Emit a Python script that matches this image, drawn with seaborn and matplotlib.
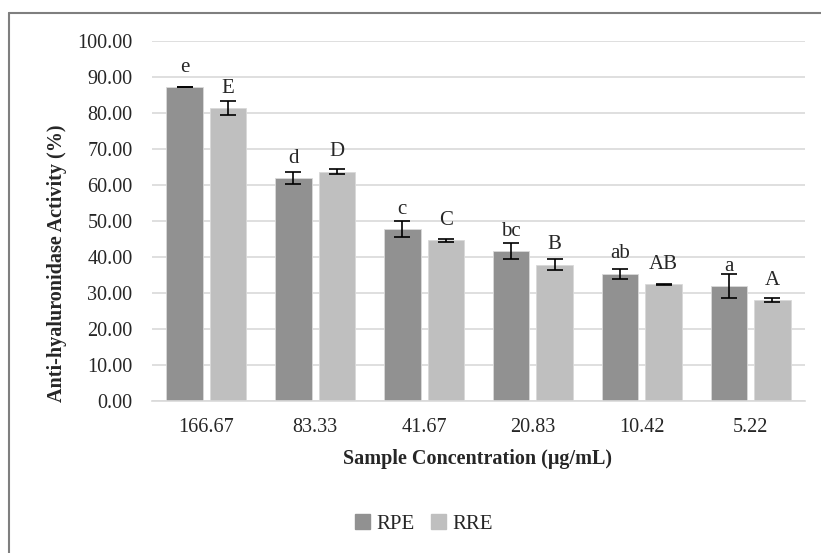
import pandas as pd
import seaborn as sns
import matplotlib.pyplot as plt
from matplotlib.lines import Line2D

# Chart values
concentrations = ['166.67', '83.33', '41.67', '20.83', '10.42', '5.22']
rpe_mean = [87.2, 61.9, 47.7, 41.6, 35.4, 32.0]
rpe_err = [0.1, 1.6, 2.2, 2.2, 1.4, 3.3]
rre_mean = [81.3, 63.7, 44.6, 37.9, 32.4, 28.1]
rre_err = [1.9, 0.7, 0.35, 1.5, 0.2, 0.5]
rpe_letters = ['e', 'd', 'c', 'bc', 'ab', 'a']
rre_letters = ['E', 'D', 'C', 'B', 'AB', 'A']

# Long table for seaborn
data = pd.DataFrame({
    'Concentration': concentrations * 2,
    'Activity': rpe_mean + rre_mean,
    'Err': rpe_err + rre_err,
    'Letter': rpe_letters + rre_letters,
    'Extract': ['RPE'] * 6 + ['RRE'] * 6,
})

sns.set_theme(style="white")
plt.rcParams['font.family'] = ['Liberation Serif', 'DejaVu Serif']

fig = plt.figure(figsize=(8.21, 5.53), dpi=100)
ax = fig.add_axes([152 / 821, 1 - 401 / 553, 653 / 821, 360 / 553])

palette = {'RPE': '#919191', 'RRE': '#bfbfbf'}
sns.barplot(data=data, x='Concentration', y='Activity', hue='Extract',
            order=concentrations, hue_order=['RPE', 'RRE'], palette=palette,
            width=0.8, gap=0.16, errorbar=None, saturation=1,
            edgecolor='#d9d9d9', linewidth=0.6, ax=ax, zorder=2)

# Error bars and letters on top of each bar
bars = [p for p in ax.patches if p.get_height() > 0]
for bar, err, letter in zip(bars, data['Err'], data['Letter']):
    cx = bar.get_x() + bar.get_width() / 2
    top = bar.get_height()
    ax.errorbar(cx, top, yerr=err, color='black', lw=1.2,
                capsize=6, capthick=1.2, zorder=3)
    ax.annotate(letter, (cx, top), xytext=(0, 11), textcoords='offset points',
                ha='center', va='baseline', fontsize=15)

# Axis styling
ax.set_xlim(-0.5, len(concentrations) - 0.5)
ax.set_ylim(0, 100)
ax.set_yticks(range(0, 101, 10))
ax.set_yticklabels([f'{v:.2f}' for v in range(0, 101, 10)])
ax.yaxis.grid(True, color='#d9d9d9', lw=1.2, zorder=0)
ax.set_axisbelow(True)
for side in ['top', 'right', 'left']:
    ax.spines[side].set_visible(False)
ax.spines['bottom'].set_color('#d9d9d9')
ax.spines['bottom'].set_linewidth(1.2)
ax.tick_params(axis='y', length=0, pad=14, labelsize=14.5)
ax.tick_params(axis='x', length=0, pad=12, labelsize=14.5)

ax.set_xlabel('Sample Concentration (μg/mL)', fontsize=14.5, fontweight='bold',
              va='center')
ax.xaxis.set_label_coords(0.498, -0.161)
ax.set_ylabel('Anti-hyaluronidase Activity (%)', fontsize=14.5,
              fontweight='bold', va='center')
ax.yaxis.set_label_coords(-0.1455, 0.383)

# Legend under the chart
ax.get_legend().remove()
handles = [plt.Rectangle((0, 0), 1, 1, color=palette[k]) for k in ['RPE', 'RRE']]
fig.legend(handles, ['RPE', 'RRE'], loc='center', bbox_to_anchor=(424 / 821, 1 - 524 / 553),
           ncol=2, frameon=False, fontsize=15, handlelength=0.7, handleheight=0.7,
           handletextpad=0.3, columnspacing=0.8)

# Gray frame around the chart area (only top and left visible)
fig.add_artist(Line2D([9 / 821, 9 / 821], [0, 1 - 13 / 553], transform=fig.transFigure,
                      color='#7f7f7f', lw=1.5))
fig.add_artist(Line2D([9 / 821, 1], [1 - 13 / 553, 1 - 13 / 553], transform=fig.transFigure,
                      color='#7f7f7f', lw=1.5))

plt.savefig('out.png', dpi=100)
